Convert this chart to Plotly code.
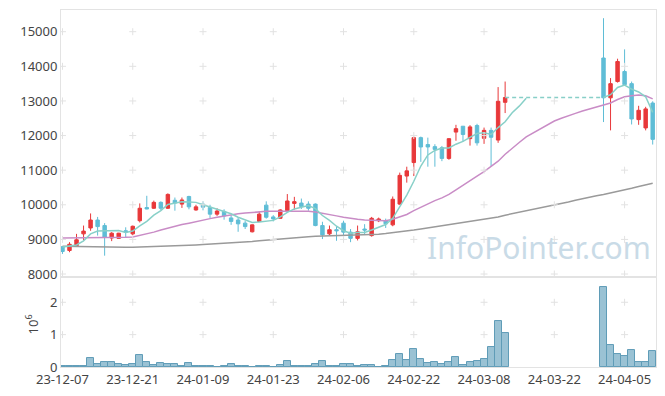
import plotly.graph_objects as go
from plotly.subplots import make_subplots

# ---------------- data ----------------
dates = [
    "23-12-07", "23-12-08", "23-12-11", "23-12-12", "23-12-13", "23-12-14", "23-12-15", "23-12-18", "23-12-19", "23-12-20",
    "23-12-21", "23-12-22", "23-12-26", "23-12-27", "23-12-28", "24-01-02", "24-01-03", "24-01-04", "24-01-05", "24-01-08",
    "24-01-09", "24-01-10", "24-01-11", "24-01-12", "24-01-15", "24-01-16", "24-01-17", "24-01-18", "24-01-19", "24-01-22",
    "24-01-23", "24-01-24", "24-01-25", "24-01-26", "24-01-29", "24-01-30", "24-01-31", "24-02-01", "24-02-02", "24-02-05",
    "24-02-06", "24-02-07", "24-02-08", "24-02-13", "24-02-14", "24-02-15", "24-02-16", "24-02-19", "24-02-20", "24-02-21",
    "24-02-22", "24-02-23", "24-02-26", "24-02-27", "24-02-28", "24-02-29", "24-03-04", "24-03-05", "24-03-06", "24-03-07",
    "24-03-08", "24-03-11", "24-03-12", "24-03-13", "24-03-14", "24-03-15", "24-03-18", "24-03-19", "24-03-20", "24-03-21",
    "24-03-22", "24-03-25", "24-03-26", "24-03-27", "24-03-28", "24-03-29", "24-04-01", "24-04-02", "24-04-03", "24-04-04",
    "24-04-05", "24-04-08", "24-04-09", "24-04-11", "24-04-12",
]

N = None
open_ = [8790, 8680, 8820, 9160, 9330, 9560, 9400, 9040, 9030, 9250,
         9160, 9540, 9920, 9900, 10070, 9900, 10130, 10020, 10240, 9850,
         10020, 9925, 9730, 9810, 9620, 9560, 9470, 9220, 9520, 9990,
         9650, 9610, 9830, 10040, 10050, 10020, 10020, 9400, 9160, 9280,
         9470, 9210, 9030, 9300, 9110, 9540, 9540, 9420, 10020, 10830,
         11220, 11940, 11740, 11680, 11650, 11340, 12100, 12270, 11910, 12290,
         11920, 12150, 11870, 12960, N, N, N, N, N, N,
         N, N, N, N, N, N, N, 14240, 13090, 13560,
         13850, 13500, 12460, 12220, 12940]
high = [8800, 8920, 9160, 9400, 9750, 9650, 9470, 9210, 9190, 9350,
        9400, 10040, 10260, 10120, 10100, 10330, 10210, 10210, 10260, 10000,
        10100, 10000, 9900, 9870, 9700, 9640, 9530, 9430, 9800, 10100,
        9700, 9870, 10310, 10230, 10180, 10100, 10040, 9510, 9400, 9380,
        9540, 9300, 9400, 9440, 9650, 9630, 9600, 10240, 10930, 11100,
        11970, 11970, 11940, 11750, 11700, 11920, 12310, 12270, 12300, 12340,
        12230, 12230, 13400, 13560, N, N, N, N, N, N,
        N, N, N, N, N, N, N, 15390, 13660, 14220,
        14490, 13560, 12860, 12830, 12990]
low = [8580, 8630, 8800, 8970, 9250, 9110, 8530, 8950, 9020, 9060,
       9120, 9490, 9870, 9880, 9850, 9880, 9830, 9910, 9870, 9830,
       9840, 9620, 9680, 9570, 9420, 9220, 9300, 9200, 9500, 9600,
       9520, 9600, 9780, 9860, 9880, 9830, 9380, 9010, 9120, 8960,
       8940, 8920, 8970, 9140, 9080, 9500, 9330, 9380, 10000, 10640,
       10830, 11240, 11100, 11100, 11260, 11300, 11850, 11820, 11710, 11710,
       11760, 11120, 11790, 12650, N, N, N, N, N, N,
       N, N, N, N, N, N, N, 12390, 12150, 13530,
       13440, 12320, 12310, 12150, 11740]
close = [8650, 8860, 8990, 9240, 9560, 9370, 9060, 9180, 9180, 9210,
         9380, 9900, 9880, 10070, 9900, 10300, 10050, 10140, 9940, 9940,
         9930, 9730, 9820, 9680, 9520, 9450, 9370, 9420, 9730, 9640,
         9590, 9850, 10110, 10090, 9950, 9900, 9400, 9130, 9280, 9250,
         9210, 9030, 9220, 9270, 9610, 9590, 9450, 10160, 10850, 10980,
         11940, 11670, 11670, 11600, 11340, 11910, 12200, 12030, 12250, 11790,
         12150, 11950, 12990, 13100, N, N, N, N, N, N,
         N, N, N, N, N, N, N, 13090, 13500, 14140,
         13470, 12480, 12730, 12770, 11890]
volume = [20000, 40000, 40000, 40000, 290000, 100000, 160000, 160000, 100000, 70000,
          100000, 380000, 160000, 70000, 130000, 100000, 100000, 40000, 130000, 40000,
          40000, 40000, 10000, 40000, 100000, 40000, 40000, 10000, 40000, 40000,
          10000, 70000, 190000, 40000, 40000, 40000, 100000, 190000, 40000, 40000,
          100000, 100000, 40000, 70000, 70000, 10000, 40000, 220000, 410000, 220000,
          560000, 260000, 130000, 160000, 100000, 160000, 320000, 70000, 160000, 190000,
          260000, 620000, 1420000, 1050000, N, N, N, N, N, N,
          N, N, N, N, N, N, N, 2470000, 680000, 410000,
          350000, 530000, 160000, 160000, 500000]

ma5 = [8780, 8800, 8840, 8960, 9160, 9240, 9250, 9270, 9260, 9200,
       9240, 9390, 9520, 9700, 9830, 10010, 10040, 10090, 10080, 10070,
       10000, 9940, 9870, 9810, 9740, 9640, 9570, 9490, 9500, 9520,
       9550, 9650, 9780, 9880, 9920, 9980, 9890, 9690, 9550, 9380,
       9250, 9180, 9200, 9200, 9270, 9340, 9430, 9610, 9930, 10280,
       10680, 11120, 11440, 11570, 11640, 11640, 11750, 11830, 11950, 12060,
       12080, 12030, 12230, 12400, 12660, 12850, 13080, N, N, N,
       N, N, N, N, N, N, N, 13100, 13180, 13390,
       13460, 13340, 13260, 13120, 12670]
last_close_fill = [N] * 63 + [13100] * 15 + [N] * 7
ma20 = [9040, 9040, 9040, 9045, 9050, 9050, 9050, 9050, 9055, 9060,
        9070, 9110, 9160, 9210, 9270, 9330, 9380, 9430, 9470, 9520,
        9560, 9600, 9640, 9680, 9710, 9740, 9760, 9780, 9800, 9810,
        9810, 9810, 9820, 9820, 9820, 9810, 9790, 9760, 9720, 9680,
        9640, 9600, 9580, 9560, 9550, 9540, 9540, 9580, 9640, 9720,
        9830, 9930, 10040, 10120, 10200, 10300, 10430, 10570, 10710, 10830,
        10960, 11100, 11260, 11460, 11640, 11800, 11960, 12080, 12200, 12310,
        12420, 12500, 12580, 12640, 12710, 12770, 12830, 12880, 12940, 13040,
        13120, 13150, 13170, 13150, 13060]
ma60 = [8800, 8795, 8790, 8785, 8780, 8780, 8775, 8775, 8775, 8775,
        8775, 8780, 8785, 8790, 8795, 8800, 8810, 8820, 8830, 8840,
        8850, 8860, 8870, 8880, 8890, 8900, 8920, 8940, 8960, 8980,
        9000, 9020, 9040, 9060, 9070, 9080, 9090, 9095, 9100, 9105,
        9110, 9115, 9120, 9130, 9140, 9150, 9170, 9190, 9210, 9240,
        9270, 9300, 9330, 9360, 9390, 9420, 9450, 9480, 9510, 9540,
        9570, 9610, 9650, 9700, 9740, 9780, 9820, 9860, 9900, 9940,
        9980, 10030, 10080, 10130, 10180, 10220, 10260, 10300, 10340, 10390,
        10430, 10480, 10530, 10580, 10620]

price_ticks = [8000, 9000, 10000, 11000, 12000, 13000, 14000, 15000]
vol_ticks = [0, 1, 2]
tick_step = 10

# ---------------- figure ----------------
x = list(range(len(dates)))
tickvals = x[::tick_step]
ticktext = [dates[i] for i in tickvals]

RED = "#e8383a"
BLUE = "#5fbdd6"
GRID = "#e2e2e2"
FONT = "Noto Sans"

fig = make_subplots(rows=2, cols=1, shared_xaxes=True, vertical_spacing=0,
                    row_heights=[0.748, 0.252])

fig.add_trace(go.Scatter(x=x, y=ma60, mode="lines", line=dict(color="#9a9a9a", width=1.5),
                         hoverinfo="skip", showlegend=False), row=1, col=1)
fig.add_trace(go.Scatter(x=x, y=ma20, mode="lines", line=dict(color="#c98cc6", width=1.5),
                         hoverinfo="skip", showlegend=False), row=1, col=1)
fig.add_trace(go.Scatter(x=x, y=ma5, mode="lines", line=dict(color="#88d0c8", width=1.5),
                         hoverinfo="skip", showlegend=False), row=1, col=1)
fig.add_trace(go.Scatter(x=x, y=last_close_fill, mode="lines",
                         line=dict(color="#88cfc8", width=1.3, dash="4px,3px"),
                         hoverinfo="skip", showlegend=False), row=1, col=1)

fig.add_trace(go.Candlestick(
    x=x, open=open_, high=high, low=low, close=close,
    increasing=dict(line=dict(color=RED, width=1), fillcolor=RED),
    decreasing=dict(line=dict(color=BLUE, width=1), fillcolor=BLUE),
    whiskerwidth=0, showlegend=False), row=1, col=1)

fig.add_trace(go.Bar(x=x, y=[None if v is None else v / 1e6 for v in volume],
                     marker=dict(color="#9ac2d4", line=dict(color="#5f9cb7", width=1)),
                     showlegend=False), row=2, col=1)

# grid crosses at tick intersections
cx, cy = [], []
for tv in tickvals:
    for pv in price_ticks:
        cx.append(tv); cy.append(pv)
fig.add_trace(go.Scatter(x=cx, y=cy, mode="markers",
                         marker=dict(symbol="cross-thin", size=5, line=dict(color=GRID, width=1)),
                         hoverinfo="skip", showlegend=False), row=1, col=1)
vx, vy = [], []
for tv in tickvals:
    for pv in vol_ticks[1:]:
        vx.append(tv); vy.append(pv)
fig.add_trace(go.Scatter(x=vx, y=vy, mode="markers",
                         marker=dict(symbol="cross-thin", size=5, line=dict(color=GRID, width=1)),
                         hoverinfo="skip", showlegend=False), row=2, col=1)

axis_common = dict(showgrid=False, zeroline=False, showline=True, linecolor="#e3e3e3",
                   linewidth=1, mirror=True, ticks="", automargin=False,
                   tickfont=dict(family=FONT, size=13, color="#444"))

fig.update_xaxes(**axis_common, range=[-0.21, 84.47], tickvals=tickvals, ticktext=ticktext)
fig.update_xaxes(showticklabels=False, rangeslider_visible=False, row=1, col=1)
fig.update_yaxes(**axis_common, tickformat="d")
fig.update_yaxes(range=[7913, 15627], tickvals=price_ticks, row=1, col=1)
fig.update_yaxes(range=[0, 2.78], tickvals=vol_ticks, row=2, col=1)

# volume axis title (10^6)
fig.add_annotation(text="10<sup>6</sup>", xref="paper", yref="paper", x=-0.05, y=0.12,
                   xanchor="center", yanchor="middle", textangle=-90, showarrow=False,
                   font=dict(family=FONT, size=13, color="#444"))

fig.add_annotation(text="InfoPointer.com", xref="paper", yref="paper", x=0.803, y=0.335,
                   xanchor="center", yanchor="middle",
                   showarrow=False, font=dict(family=FONT, size=30, color="#c9dbe7"))

# page body has an 8px default margin, so the figure is sized to fit the 665x396 window
fig.update_layout(width=657, height=388, margin=dict(l=53, r=9, t=2, b=29),
                  paper_bgcolor="white", plot_bgcolor="white", bargap=0,
                  font=dict(family=FONT), hovermode=False)

fig.write_html("out.html")
